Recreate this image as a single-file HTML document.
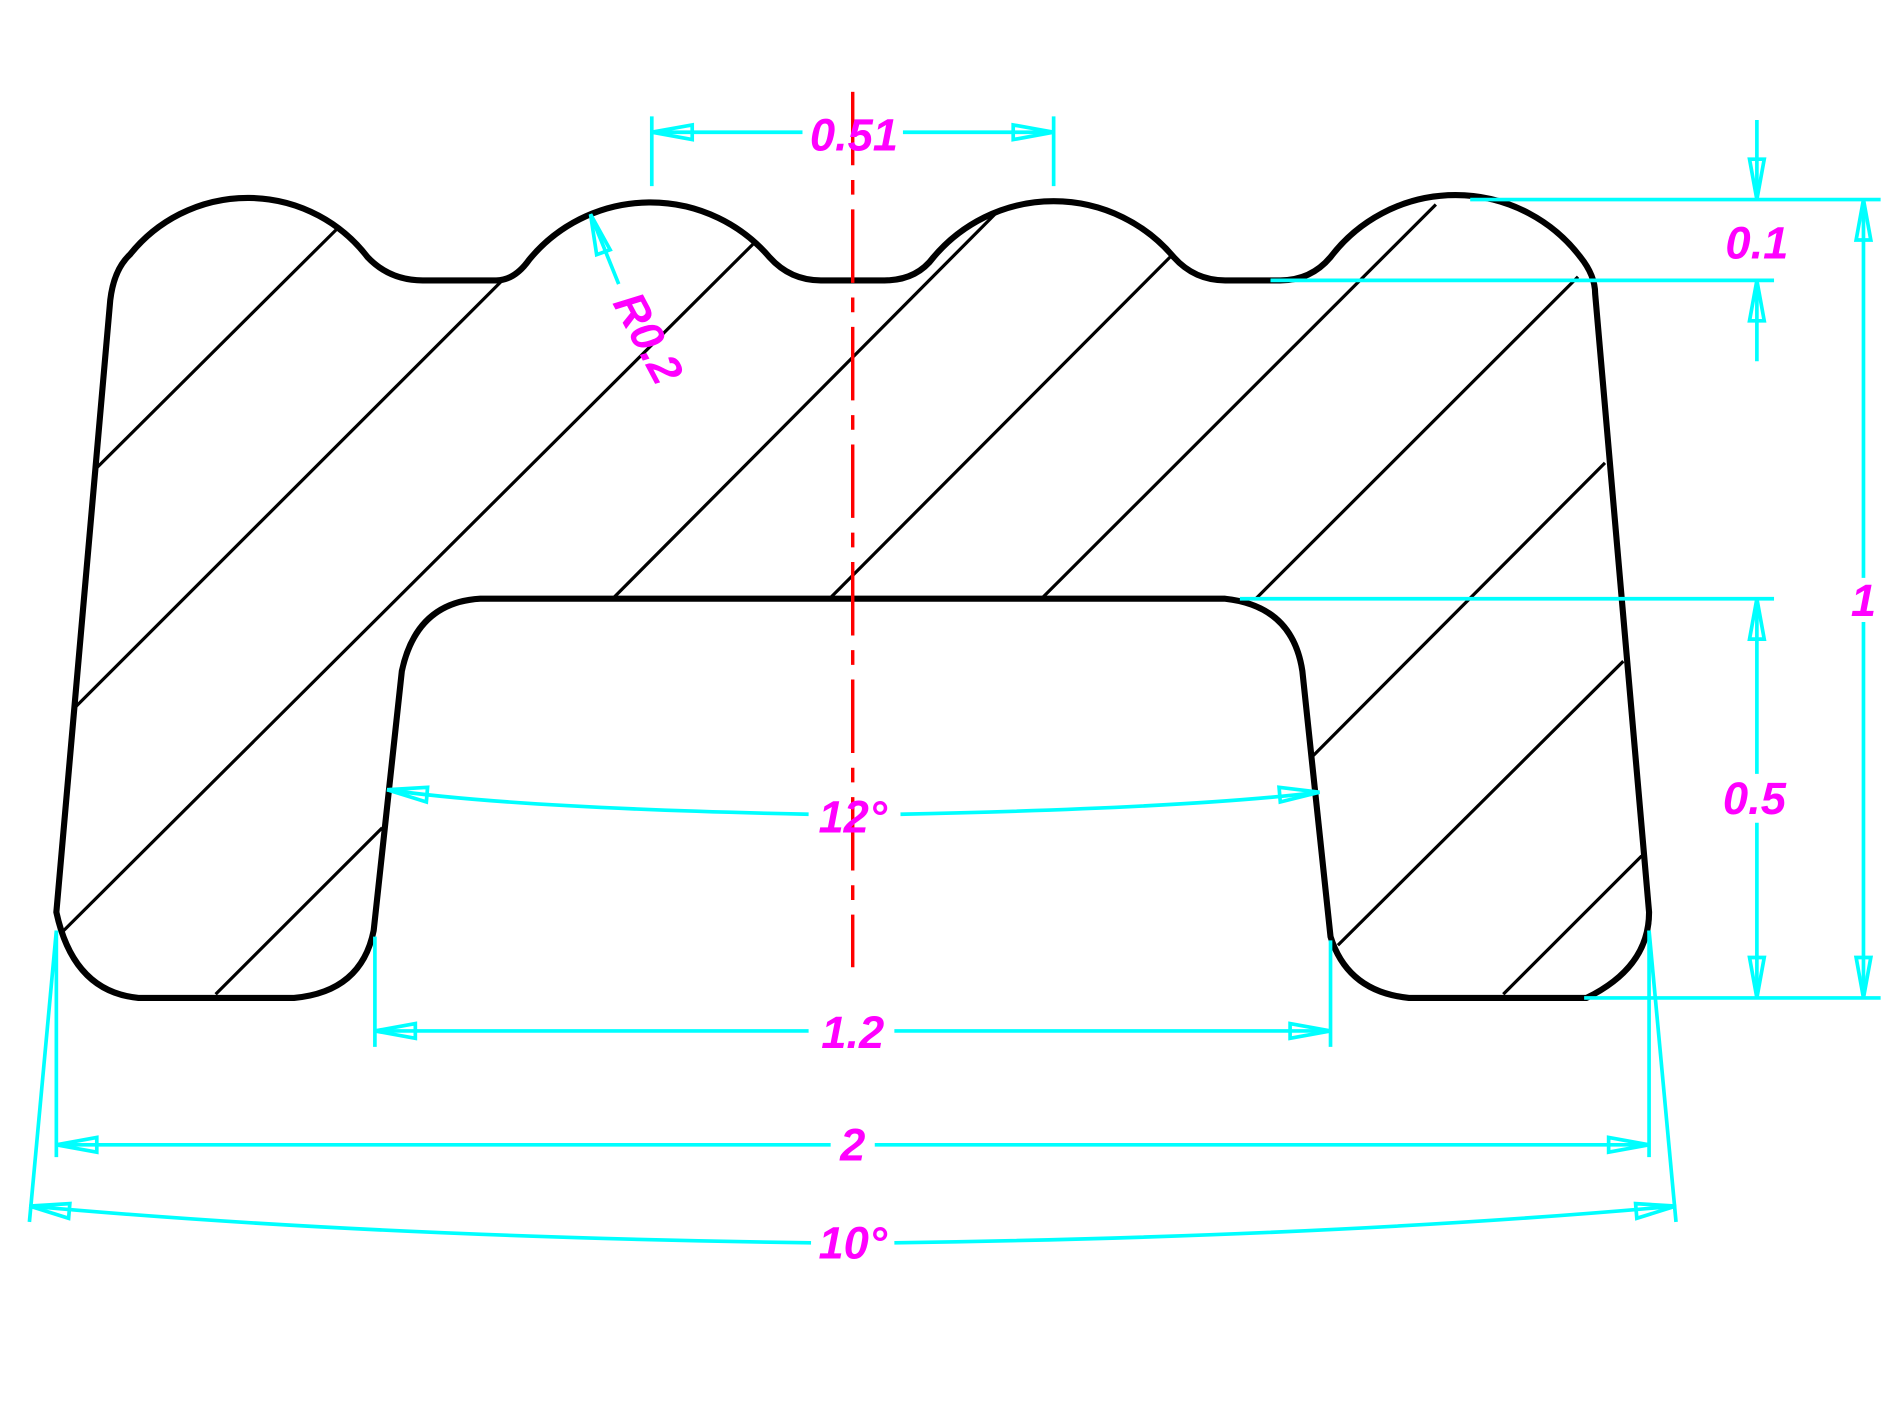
<!DOCTYPE html>
<html><head><meta charset="utf-8"><style>
html,body{margin:0;padding:0;background:#fff}
svg{display:block}
text{font-family:"Liberation Sans",sans-serif;font-style:italic;font-weight:bold;fill:#ff00ff;font-size:37px;text-anchor:middle}
</style></head><body>
<svg width="1899" height="1424" viewBox="0 0 1550 1163" preserveAspectRatio="none" xmlns="http://www.w3.org/2000/svg">
<rect width="1550" height="1163" fill="#fff"/>
<g stroke="#000" stroke-width="2.6">
<line x1="78" y1="383" x2="275" y2="187"/>
<line x1="62" y1="577" x2="410" y2="229"/>
<line x1="50" y1="762" x2="617" y2="197"/>
<line x1="176" y1="812" x2="312" y2="676"/>
<line x1="500" y1="489" x2="815" y2="172"/>
<line x1="677" y1="489" x2="955" y2="210"/>
<line x1="850" y1="489" x2="1172" y2="167"/>
<line x1="1025" y1="489" x2="1288" y2="226"/>
<line x1="1072" y1="617" x2="1310" y2="378"/>
<line x1="1092" y1="772" x2="1325" y2="540"/>
<line x1="1227" y1="812" x2="1340" y2="699"/>
</g>
<g fill="none" stroke="#000" stroke-width="5" stroke-linejoin="round">
<path d="M46,745 L90,245 Q93,220 106,208 A123,123 0 0 1 300,210 Q318,229 345,229 L405,229 Q420,229 432,212 A128,128 0 0 1 628,210 Q645,229 670,229 L722,229 Q748,229 762,210 A128,128 0 0 1 958,210 Q975,229 1000,229 L1045,229 Q1070,229 1086,210 A128,128 0 0 1 1290,210 Q1302,225 1302,240 L1346,745 Q1346,790 1295,815 L1150,815 Q1100,810 1086,765 L1063,548 Q1055,495 1000,489 L392,489 Q340,492 328,548 L305,760 Q295,810 240,815 L113,815 Q60,810 46,745 Z"/>
</g>
<line x1="696" y1="75" x2="696" y2="790" stroke="#ff0000" stroke-width="2.8" stroke-dasharray="60,12,12,12"/>
<g stroke="#00ffff" stroke-width="3" fill="none">
<line x1="532" y1="95" x2="532" y2="152"/><line x1="860" y1="95" x2="860" y2="152"/>
<line x1="532" y1="108" x2="655" y2="108"/><line x1="737" y1="108" x2="860" y2="108"/>
<polygon points="532,108 565,102 565,114"/><polygon points="860,108 827,102 827,114"/>
<line x1="1200" y1="163" x2="1535" y2="163"/>
<line x1="1037" y1="229" x2="1448" y2="229"/>
<line x1="1012" y1="489" x2="1448" y2="489"/>
<line x1="1293" y1="815" x2="1535" y2="815"/>
<line x1="1521" y1="163" x2="1521" y2="472"/><line x1="1521" y1="508" x2="1521" y2="815"/>
<polygon points="1521,163 1515,196 1527,196"/><polygon points="1521,815 1515,782 1527,782"/>
<line x1="1434" y1="489" x2="1434" y2="632"/><line x1="1434" y1="672" x2="1434" y2="815"/>
<polygon points="1434,489 1428,522 1440,522"/><polygon points="1434,815 1428,782 1440,782"/>
<line x1="1434" y1="98" x2="1434" y2="163"/><polygon points="1434,163 1428,130 1440,130"/>
<line x1="1434" y1="229" x2="1434" y2="295"/><polygon points="1434,229 1428,262 1440,262"/>
<line x1="505" y1="232" x2="482" y2="175"/><polygon points="482,175 487,208 498,204"/>
<path d="M316,645 Q420,660 660,665"/><path d="M735,665 Q970,660 1077,647"/>
<polygon points="316,645 349,643 348,655"/><polygon points="1077,647 1044,643 1045,655"/>
<line x1="306" y1="765" x2="306" y2="855"/><line x1="1086" y1="768" x2="1086" y2="855"/>
<line x1="306" y1="842" x2="660" y2="842"/><line x1="730" y1="842" x2="1086" y2="842"/>
<polygon points="306,842 339,836 339,848"/><polygon points="1086,842 1053,836 1053,848"/>
<line x1="46" y1="760" x2="46" y2="945"/><line x1="1346" y1="760" x2="1346" y2="945"/>
<line x1="46" y1="935" x2="678" y2="935"/><line x1="714" y1="935" x2="1346" y2="935"/>
<polygon points="46,935 79,929 79,941"/><polygon points="1346,935 1313,929 1313,941"/>
<line x1="46" y1="760" x2="24" y2="998"/><line x1="1346" y1="760" x2="1368" y2="998"/>
<path d="M24,985 Q300,1010 662,1015"/><path d="M730,1015 Q1090,1010 1368,985"/>
<polygon points="24,985 57,983 56,995"/><polygon points="1368,985 1335,983 1336,995"/>
</g>
<text x="697" y="123">0.51</text>
<text x="1434" y="211">0.1</text>
<text x="1521" y="503">1</text>
<text x="1432" y="665">0.5</text>
<text x="696" y="680">12°</text>
<text x="696" y="856">1.2</text>
<text x="696" y="948">2</text>
<text x="696" y="1028">10°</text>
<text x="0" y="0" transform="translate(518,282) rotate(62)">R0.2</text>
</svg>
</body></html>
